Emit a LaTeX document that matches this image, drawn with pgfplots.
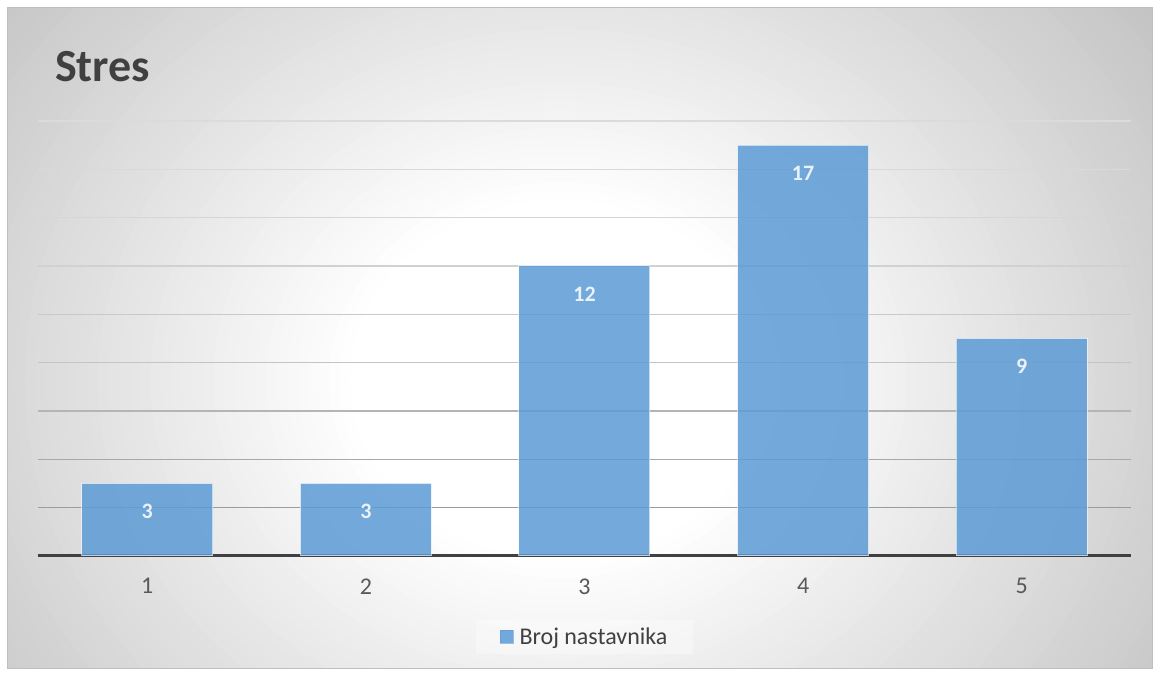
\documentclass[border=0pt]{standalone}
\usepackage{pgfplots}
\pgfplotsset{compat=1.18}
\usepackage{fontspec}
\setmainfont{Carlito}
\definecolor{barblue}{RGB}{91,155,213}
\definecolor{txtgray}{HTML}{595959}
\definecolor{titlegray}{HTML}{404040}
\definecolor{bgout}{HTML}{C4C4C4}
\begin{document}
\begin{tikzpicture}[x=1pt,y=1pt]
\useasboundingbox (0,0) rectangle (1160,677);
\fill[white] (0,0) rectangle (1160,677);
\begin{scope}
\clip (7,8) rectangle (1152,669);
\fill[bgout] (7,8) rectangle (1152,669);
\foreach \i in {0,...,50} {
  \pgfmathsetmacro\f{1.05-0.75*\i/50}
  \pgfmathsetmacro\c{100*\i/50}
  \fill[white!\c!bgout] (560,297) ellipse [x radius={700*\f}, y radius={600*\f}];
}
\end{scope}
\draw[black!25, line width=1pt] (7,8) rectangle (1152,669);
\node[anchor=base west, font=\fontsize{46}{52}\selectfont\bfseries, text=titlegray, inner sep=0pt] at (55,595) {Stres};
\begin{axis}[
  at={(38pt,121pt)}, anchor=south west,
  scale only axis, width=1093pt, height=435pt,
  xmin=0.5, xmax=5.5, ymin=0, ymax=18,
  axis y line=none,
  axis x line*=bottom,
  x axis line style={draw=titlegray, line width=3pt, -},
  xtick={1,2,3,4,5}, xticklabels={1,2,3,4,5},
  major tick length=0pt,
  xticklabel style={font=\fontsize{24}{28}\selectfont, text=txtgray, yshift=-19pt},
  /pgf/number format/assume math mode=true,
  ybar, bar width=131pt,
  clip=false,
  nodes near coords,
  every node near coord/.append style={anchor=center, yshift=-28pt, text=white, font=\fontsize{22}{26}\selectfont\bfseries},
  legend style={at={(0.5,-0.186)}, anchor=center, draw=none, fill=white, fill opacity=0.35, text opacity=1,
    font=\fontsize{24}{28}\selectfont, text=titlegray, inner xsep=24pt, inner ysep=6pt,
    /tikz/every odd column/.append style={column sep=4pt}},
  legend image code/.code={\fill[barblue] (0pt,-6.5pt) rectangle (13pt,6.5pt);},
]
\draw[black!39, line width=1.5pt] (axis cs:0.5,2) -- (axis cs:5.5,2);
\draw[black!34, line width=1.5pt] (axis cs:0.5,4) -- (axis cs:5.5,4);
\draw[black!29, line width=1.5pt] (axis cs:0.5,6) -- (axis cs:5.5,6);
\draw[black!23, line width=1.5pt] (axis cs:0.5,8) -- (axis cs:5.5,8);
\draw[black!21, line width=1.5pt] (axis cs:0.5,10) -- (axis cs:5.5,10);
\draw[black!18, line width=1.5pt] (axis cs:0.5,12) -- (axis cs:5.5,12);
\draw[black!16, line width=1.5pt] (axis cs:0.5,14) -- (axis cs:5.5,14);
\draw[black!15, line width=1.5pt] (axis cs:0.5,16) -- (axis cs:5.5,16);
\draw[black!14, line width=1.5pt] (axis cs:0.5,18) -- (axis cs:5.5,18);
\addplot[fill=barblue, fill opacity=0.85, draw=white, draw opacity=0.6, line width=1pt]
  coordinates {(1,3) (2,3) (3,12) (4,17) (5,9)};
\addlegendentry{Broj nastavnika}
\end{axis}
\end{tikzpicture}
\end{document}
